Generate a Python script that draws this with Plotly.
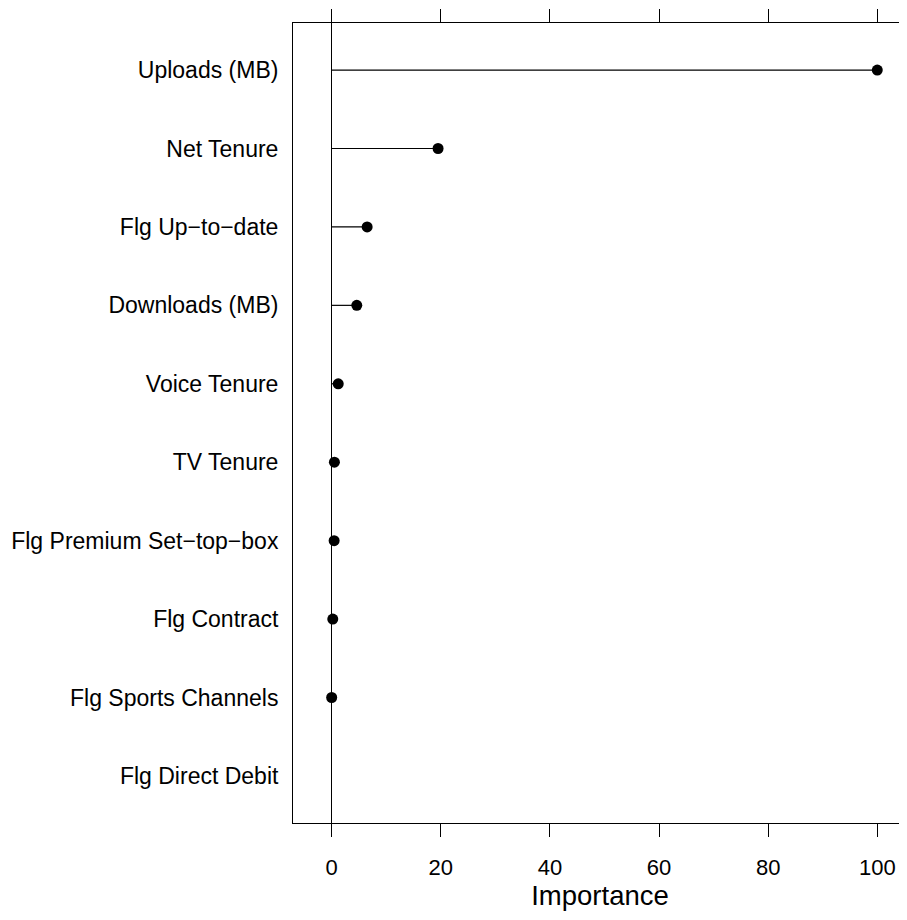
import plotly.graph_objects as go

features = ["Uploads (MB)", "Net Tenure", "Flg Up\u2212to\u2212date", "Downloads (MB)",
            "Voice Tenure", "TV Tenure", "Flg Premium Set\u2212top\u2212box",
            "Flg Contract", "Flg Sports Channels", "Flg Direct Debit"]
importance = [100.0, 19.5, 6.5, 4.6, 1.2, 0.5, 0.45, 0.2, 0.0, None]
x_ticks = [0, 20, 40, 60, 80, 100]

FONT = "Liberation Sans, Arial, Helvetica, sans-serif"

seg_x, seg_y = [], []
pt_x, pt_y = [], []
for f, v in zip(features, importance):
    if v is None:
        continue
    seg_x += [0, v, None]
    seg_y += [f, f, None]
    pt_x.append(v)
    pt_y.append(f)

fig = go.Figure()
fig.add_trace(go.Scatter(x=seg_x, y=seg_y, mode="lines",
                         line=dict(color="black", width=1.2), hoverinfo="skip",
                         showlegend=False))
fig.add_trace(go.Scatter(x=pt_x, y=pt_y, mode="markers",
                         marker=dict(color="black", size=11),
                         showlegend=False))

# page body has an 8px margin, so the figure is sized to fit the window
fig.update_layout(
    width=899, height=912,
    margin=dict(l=285, r=0, t=15, b=97),
    paper_bgcolor="white", plot_bgcolor="white",
    font=dict(family=FONT, size=22, color="black"),
    xaxis=dict(
        range=[-7.09, 105.45], tickvals=x_ticks, ticktext=[str(t) for t in x_ticks],
        ticks="outside", ticklen=13, tickwidth=1, tickcolor="black",
        showline=True, linecolor="black", linewidth=1, mirror="ticks",
        showgrid=False, zeroline=True, zerolinecolor="black", zerolinewidth=1,
        ticklabelstandoff=12,
        tickfont=dict(family=FONT, size=22, color="black"),
        title=dict(text="Importance", font=dict(family=FONT, size=27.5, color="black"),
                   standoff=2),
    ),
    yaxis=dict(
        type="category", categoryorder="array", categoryarray=features,
        range=[9.6, -0.6], ticks="", showgrid=False, zeroline=False,
        showline=True, linecolor="black", linewidth=1, mirror=False,
        ticklabelstandoff=9,
        tickfont=dict(family=FONT, size=23, color="black"),
    ),
)

fig.write_html("out.html")
